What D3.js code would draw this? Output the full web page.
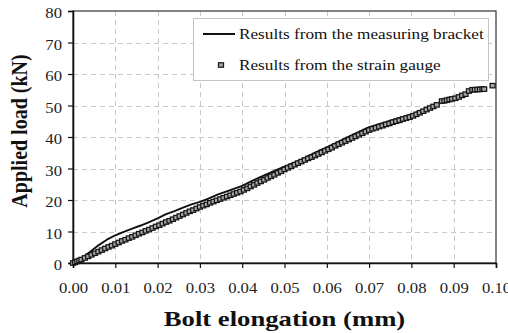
<!DOCTYPE html>
<html>
<head>
<meta charset="utf-8">
<script src="https://cdn.jsdelivr.net/npm/d3@7"></script>
<style>
  html, body { margin: 0; padding: 0; background: #fff; }
  svg { display: block; }
</style>
</head>
<body>
<svg id="chart" width="508" height="333"></svg>
<script>
// Load vs. bolt elongation: measuring bracket (line) and strain gauge (square markers)
const xTicks = [0.00, 0.01, 0.02, 0.03, 0.04, 0.05, 0.06, 0.07, 0.08, 0.09, 0.10];
const yTicks = [0, 10, 20, 30, 40, 50, 60, 70, 80];

const bracketElong = [0.0000, 0.0020, 0.0040, 0.0060, 0.0080, 0.0100, 0.0120, 0.0140, 0.0160, 0.0180,
  0.0200, 0.0220, 0.0240, 0.0260, 0.0280, 0.0300, 0.0320, 0.0340, 0.0360, 0.0380,
  0.0400, 0.0420, 0.0440, 0.0460, 0.0480, 0.0500, 0.0520, 0.0540, 0.0560, 0.0580,
  0.0600, 0.0620, 0.0640, 0.0660, 0.0680, 0.0700, 0.0720, 0.0740, 0.0760, 0.0780,
  0.0800, 0.0820, 0.0840, 0.0860, 0.0880, 0.0900, 0.0920, 0.0940, 0.0960];
const bracketLoad = [0.0, 1.5, 3.5, 5.6, 7.4, 8.8, 9.9, 10.9, 11.9, 13.0,
  14.2, 15.5, 16.5, 17.6, 18.6, 19.4, 20.4, 21.6, 22.6, 23.5,
  24.5, 25.8, 27.1, 28.3, 29.5, 30.6, 31.7, 32.8, 34.2, 35.5,
  36.7, 38.0, 39.3, 40.6, 41.9, 43.1, 43.9, 44.7, 45.6, 46.4,
  47.2, 48.2, 49.2, 50.3, 51.4, 52.3, 53.3, 54.4, 55.0];

const gaugeElong = [0.0000, 0.0005, 0.0010, 0.0015, 0.0020, 0.0028, 0.0036, 0.0044, 0.0052, 0.0060,
  0.0068, 0.0076, 0.0084, 0.0092, 0.0100, 0.0108, 0.0116, 0.0124, 0.0132, 0.0140,
  0.0148, 0.0156, 0.0164, 0.0172, 0.0180, 0.0188, 0.0196, 0.0204, 0.0212, 0.0220,
  0.0228, 0.0236, 0.0244, 0.0252, 0.0260, 0.0268, 0.0276, 0.0284, 0.0292, 0.0300,
  0.0308, 0.0316, 0.0324, 0.0332, 0.0340, 0.0348, 0.0356, 0.0364, 0.0372, 0.0380,
  0.0388, 0.0396, 0.0404, 0.0412, 0.0420, 0.0428, 0.0436, 0.0444, 0.0452, 0.0460,
  0.0468, 0.0476, 0.0484, 0.0492, 0.0500, 0.0508, 0.0516, 0.0524, 0.0532, 0.0540,
  0.0548, 0.0556, 0.0564, 0.0572, 0.0580, 0.0588, 0.0596, 0.0604, 0.0612, 0.0620,
  0.0628, 0.0636, 0.0644, 0.0652, 0.0660, 0.0668, 0.0676, 0.0684, 0.0692, 0.0700,
  0.0708, 0.0716, 0.0724, 0.0732, 0.0740, 0.0748, 0.0756, 0.0764, 0.0772, 0.0780,
  0.0788, 0.0796, 0.0804, 0.0812, 0.0820, 0.0828, 0.0836, 0.0844, 0.0852, 0.0860,
  0.0872, 0.0878, 0.0884, 0.0890, 0.0896, 0.0904, 0.0912, 0.0920, 0.0928, 0.0936,
  0.0944, 0.0950, 0.0956, 0.0962, 0.0968, 0.0972, 0.0992];
const gaugeLoad = [0.0, 0.2, 0.5, 0.8, 1.1, 1.6, 2.1, 2.6, 3.1, 3.6,
  4.1, 4.6, 5.1, 5.5, 6.0, 6.5, 7.0, 7.4, 7.9, 8.3,
  8.8, 9.3, 9.7, 10.2, 10.6, 11.1, 11.6, 12.0, 12.5, 13.0,
  13.4, 13.9, 14.4, 14.9, 15.4, 15.9, 16.4, 16.8, 17.3, 17.8,
  18.2, 18.6, 19.1, 19.5, 19.9, 20.3, 20.7, 21.1, 21.5, 21.9,
  22.3, 22.7, 23.2, 23.7, 24.3, 24.8, 25.4, 25.9, 26.4, 27.0,
  27.5, 28.0, 28.6, 29.1, 29.7, 30.2, 30.7, 31.2, 31.7, 32.2,
  32.7, 33.2, 33.6, 34.1, 34.6, 35.1, 35.6, 36.1, 36.6, 37.2,
  37.7, 38.2, 38.7, 39.2, 39.7, 40.2, 40.7, 41.2, 41.7, 42.2,
  42.6, 42.9, 43.3, 43.6, 44.0, 44.3, 44.7, 45.0, 45.3, 45.7,
  46.0, 46.3, 46.7, 47.2, 47.7, 48.2, 48.7, 49.2, 49.7, 50.2,
  51.4, 51.5, 51.7, 51.9, 52.1, 52.3, 52.7, 53.2, 53.6, 54.6,
  55.0, 55.0, 55.1, 55.1, 55.2, 55.2, 56.3];

const seriesNames = ["Results from the measuring bracket", "Results from the strain gauge"];

const FONT = "'Liberation Serif', 'Times New Roman', Times, serif";
const svg = d3.select("#chart");
const margin = { left: 73, right: 12, top: 11, bottom: 70 };
const W = 508, H = 333;

const x = d3.scaleLinear().domain([0, 0.10]).range([margin.left, W - margin.right]);
const y = d3.scaleLinear().domain([0, 80]).range([H - margin.bottom, margin.top]);

// dashed grid
const grid = svg.append("g").attr("stroke", "#c8c8c8").attr("stroke-width", 1).attr("stroke-dasharray", "5,4");
grid.selectAll("line.v").data(xTicks.slice(1, -1)).join("line")
  .attr("x1", d => Math.round(x(d)) + 0.5).attr("x2", d => Math.round(x(d)) + 0.5)
  .attr("y1", y(80)).attr("y2", y(0));
grid.selectAll("line.h").data(yTicks.slice(1, -1)).join("line")
  .attr("y1", d => Math.round(y(d)) + 0.5).attr("y2", d => Math.round(y(d)) + 0.5)
  .attr("x1", x(0)).attr("x2", x(0.10));

// frame
svg.append("rect")
  .attr("x", x(0)).attr("y", y(80))
  .attr("width", x(0.10) - x(0)).attr("height", y(0) - y(80))
  .attr("fill", "none").attr("stroke", "#333").attr("stroke-width", 1.2);

// axes (labels slightly widened, as in the original layout)
const xAxis = d3.axisBottom(x).tickValues(xTicks).tickFormat(d3.format(".2f")).tickSize(5).tickPadding(15);
const yAxis = d3.axisLeft(y).tickValues(yTicks).tickFormat(d3.format("d")).tickSize(5).tickPadding(6);

const gx = svg.append("g").attr("transform", `translate(0,${y(0)})`).call(xAxis);
const gy = svg.append("g").attr("transform", `translate(${x(0)},0)`).call(yAxis);
[gx, gy].forEach(g => {
  g.attr("font-family", FONT).attr("font-size", 14.5);
  g.select(".domain").attr("stroke", "#111").attr("stroke-width", 1.6);
  g.selectAll(".tick line").attr("stroke", "#111").attr("stroke-width", 1.2);
  g.selectAll(".tick text").attr("fill", "#222");
});
gx.selectAll(".tick text").attr("transform", "scale(1.15,1)");
gy.selectAll(".tick text")
  .attr("x", -11 / 1.15).attr("dy", "0.45em")
  .attr("transform", "scale(1.15,1)");

// axis titles
svg.append("text")
  .attr("transform", `translate(${(x(0) + x(0.10)) / 2},326) scale(1.27,1)`)
  .attr("text-anchor", "middle").attr("font-family", FONT)
  .attr("font-size", 21).attr("font-weight", "bold").attr("fill", "#111")
  .text("Bolt elongation (mm)");
svg.append("text")
  .attr("transform", `translate(27,131) scale(1.2,1) rotate(-90)`)
  .attr("text-anchor", "middle").attr("font-family", FONT)
  .attr("font-size", 20).attr("font-weight", "bold").attr("fill", "#111")
  .text("Applied load (kN)");

// measuring bracket curve
const bracket = bracketElong.map((e, i) => [e, bracketLoad[i]]);
svg.append("path")
  .datum(bracket)
  .attr("fill", "none").attr("stroke", "#111").attr("stroke-width", 1.9)
  .attr("stroke-linejoin", "round")
  .attr("d", d3.line().x(d => x(d[0])).y(d => y(d[1])));

// strain gauge markers
const gauge = gaugeElong.map((e, i) => [e, gaugeLoad[i]]);
const mw = 5, mh = 4.4;
svg.append("g").selectAll("rect").data(gauge).join("rect")
  .attr("x", d => x(d[0]) - mw / 2).attr("y", d => y(d[1]) - mh / 2)
  .attr("width", mw).attr("height", mh)
  .attr("fill", "#a8a8a8").attr("stroke", "#151515").attr("stroke-width", 1.25);

// legend
const lg = svg.append("g");
lg.append("rect")
  .attr("x", 193.5).attr("y", 18.5).attr("width", 295).attr("height", 62)
  .attr("fill", "#fff").attr("stroke", "#c4c4c4").attr("stroke-width", 1);
lg.append("line")
  .attr("x1", 203).attr("x2", 235).attr("y1", 34).attr("y2", 34)
  .attr("stroke", "#111").attr("stroke-width", 2);
lg.append("rect")
  .attr("x", 221 - mw / 2).attr("y", 65 - mh / 2).attr("width", mw).attr("height", mh)
  .attr("fill", "#a8a8a8").attr("stroke", "#151515").attr("stroke-width", 1.25);
lg.selectAll("text.item").data(seriesNames).join("text")
  .attr("transform", (d, i) => `translate(239,${39 + i * 31}) scale(1.18,1)`)
  .attr("font-family", FONT).attr("font-size", 14.6).attr("fill", "#111")
  .text(d => d);
</script>
</body>
</html>
